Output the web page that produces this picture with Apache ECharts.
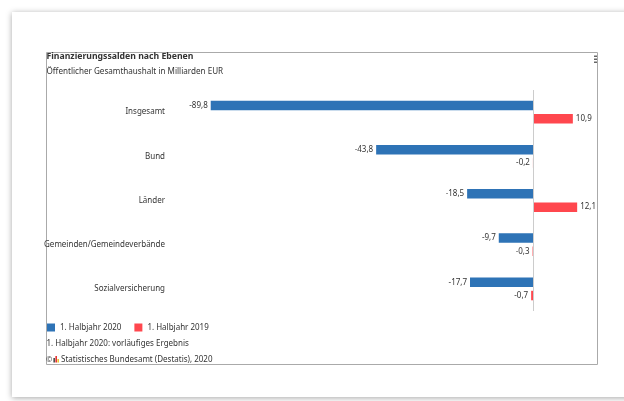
<!DOCTYPE html>
<html><head><meta charset="utf-8">
<script src="https://cdn.jsdelivr.net/npm/echarts@6/dist/echarts.min.js"></script>
<style>html,body{margin:0;padding:0;background:#fff}#c{width:624px;height:401px}</style>
</head><body><div id="c"></div>
<script>
const categories = ['Insgesamt', 'Bund', 'Länder', 'Gemeinden/Gemeindeverbände', 'Sozialversicherung'];
const h2020 = [-89.8, -43.8, -18.5, -9.7, -17.7];
const h2019 = [10.9, -0.2, 12.1, -0.3, -0.7];
const seriesNames = ['1. Halbjahr 2020', '1. Halbjahr 2019'];
const titleText = 'Finanzierungssalden nach Ebenen';
const subtitleText = 'Öffentlicher Gesamthaushalt in Milliarden EUR';
const noteText = '1. Halbjahr 2020: vorläufiges Ergebnis';
const sourceText = 'Statistisches Bundesamt (Destatis), 2020';

const FONT = 'Noto Sans';
const fmt = v => String(v).replace('.', ',');
const mk = arr => arr.map(v => ({value: v, label: {position: v < 0 ? 'left' : 'right'}}));
const txt = (x, y, text, font) => ({type: 'text', x: x, y: y, style: {text: text, font: font, fill: '#333', verticalAlign: 'middle'}});

const chart = echarts.init(document.getElementById('c'), null, {renderer: 'canvas'});
chart.setOption({
  animation: false,
  textStyle: {fontFamily: FONT},
  graphic: [
    {type: 'rect', shape: {x: 12, y: 12, width: 640, height: 385}, style: {fill: '#fff', shadowBlur: 6, shadowColor: 'rgba(0,0,0,0.35)', shadowOffsetX: 0, shadowOffsetY: 1}, z: -10},
    {type: 'rect', shape: {x: 46.5, y: 52.5, width: 551, height: 312}, style: {fill: 'none', stroke: '#aaa', lineWidth: 1}, z: -5},
    txt(46.5, 56.5, titleText, 'bold 8.7px "' + FONT + '"'),
    txt(46.5, 72, subtitleText, '8.1px "' + FONT + '"'),
    {type: 'rect', shape: {x: 594, y: 55.5, width: 3, height: 1.5}, style: {fill: '#666'}},
    {type: 'rect', shape: {x: 594, y: 58.5, width: 3, height: 1.5}, style: {fill: '#666'}},
    {type: 'rect', shape: {x: 594, y: 61.5, width: 3, height: 1.5}, style: {fill: '#666'}},
    txt(46.5, 344, noteText, '8px "' + FONT + '"'),
    txt(46, 359.5, '©', '7.5px "' + FONT + '"'),
    {type: 'rect', shape: {x: 53.5, y: 358, width: 1.3, height: 4.5}, style: {fill: '#222'}},
    {type: 'rect', shape: {x: 55.5, y: 356, width: 1.3, height: 6.5}, style: {fill: '#d00'}},
    {type: 'rect', shape: {x: 57.5, y: 359, width: 1.3, height: 3.5}, style: {fill: '#e8b400'}},
    txt(61, 359.5, sourceText, '8px "' + FONT + '"')
  ],
  legend: {
    left: 42, top: 318.5, itemWidth: 8, itemHeight: 8, itemGap: 13, icon: 'rect',
    textStyle: {fontSize: 8, color: '#333', fontFamily: FONT}, data: seriesNames
  },
  grid: {left: 210, right: 40, top: 90, bottom: 90},
  xAxis: {type: 'value', min: -90, max: 14, show: false},
  yAxis: {
    type: 'category', data: categories, inverse: true,
    axisLine: {show: false}, axisTick: {show: false},
    axisLabel: {fontSize: 8, color: '#333', margin: 45, fontFamily: FONT}
  },
  series: [
    {name: seriesNames[0], type: 'bar', data: mk(h2020), barWidth: 9.5, barGap: '40%',
     itemStyle: {color: '#2e73b6'},
     label: {show: true, fontSize: 8, color: '#333', distance: 3, formatter: p => fmt(p.value)},
     markLine: {silent: true, symbol: 'none', label: {show: false}, lineStyle: {color: '#ccc', type: 'solid', width: 1}, data: [{xAxis: 0}]}},
    {name: seriesNames[1], type: 'bar', data: mk(h2019), barWidth: 9.5,
     itemStyle: {color: '#ff474e'},
     label: {show: true, fontSize: 8, color: '#333', distance: 3, formatter: p => fmt(p.value)}}
  ]
});
</script></body></html>
